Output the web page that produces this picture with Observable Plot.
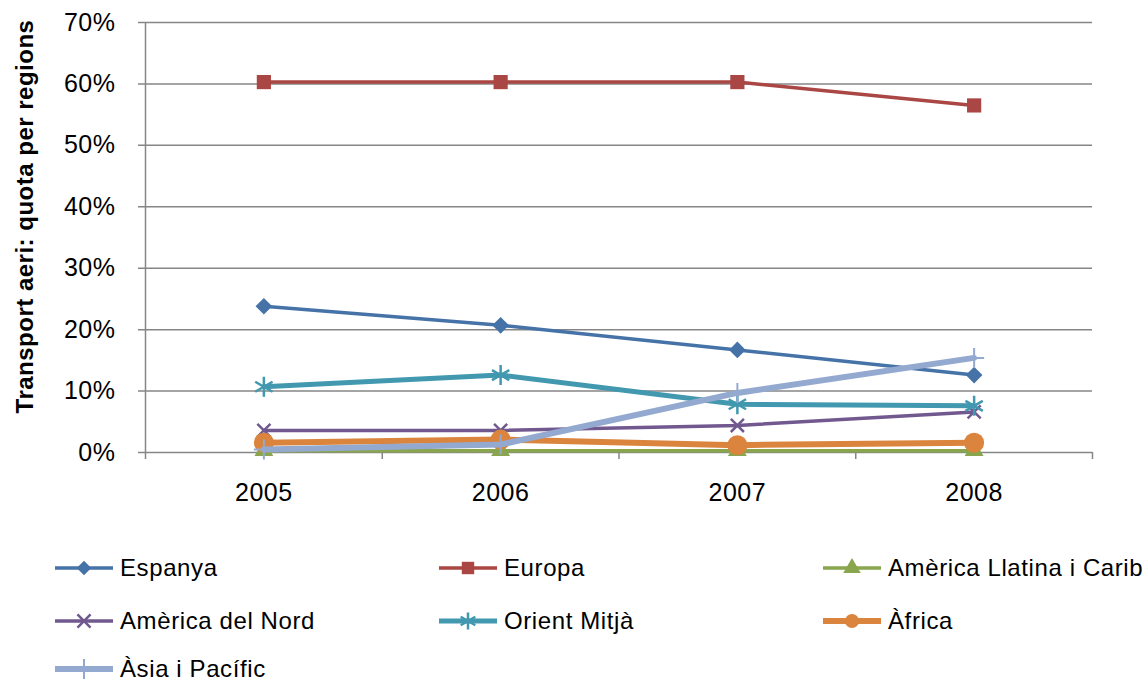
<!DOCTYPE html>
<html>
<head>
<meta charset="utf-8">
<script src="https://cdn.jsdelivr.net/npm/d3@7"></script>
<script src="https://cdn.jsdelivr.net/npm/@observablehq/plot@0.6"></script>
<style>
  html, body { margin: 0; padding: 0; background: #fff; }
  #wrap { position: relative; width: 1148px; height: 682px; overflow: hidden; font-family: "Liberation Sans", Arial, sans-serif; }
  .leg { position: absolute; display: flex; align-items: center; font-size: 24px; line-height: 24px; letter-spacing: 0.6px; color: #000; white-space: nowrap; }
  .leg svg { margin-right: 7px; overflow: visible; }
</style>
</head>
<body>
<div id="wrap"></div>
<script>
// ---- data ----
const years = [2005, 2006, 2007, 2008];
const yTicks = [0, 10, 20, 30, 40, 50, 60, 70];
const seriesNames = ["Espanya", "Europa", "Amèrica Llatina i Carib", "Amèrica del Nord", "Orient Mitjà", "Àfrica", "Àsia i Pacífic"];
const espanya = [23.8, 20.7, 16.7, 12.6];
const europa = [60.3, 60.3, 60.3, 56.5];
const llatina = [0.3, 0.3, 0.3, 0.3];
const nord = [3.6, 3.6, 4.4, 6.6];
const orient = [10.7, 12.6, 7.85, 7.6];
const africa = [1.6, 2.1, 1.2, 1.6];
const asia = [0.5, 1.3, 9.7, 15.4];
const yLabel = "Transport aeri: quota per regions";

// ---- styles ----
const seriesValues = [espanya, europa, llatina, nord, orient, africa, asia];
const colors = ["#4572A7", "#AA4643", "#89A54E", "#71588F", "#4198AF", "#DB843D", "#93A9CF"];
const symbols = ["diamond2", "square", "triangle", "times", "asterisk", "circle", "plus"];
const d3Symbols = [d3.symbolDiamond2, d3.symbolSquare, d3.symbolTriangle, d3.symbolTimes, d3.symbolAsterisk, d3.symbolCircle, d3.symbolPlus];
const filled = [true, true, true, false, false, true, false];
const lineWidths = [3.5, 3.5, 3.5, 3.5, 5, 6, 6];
const markerR = [7.5, 8, 7, 6, 9.5, 10, 6.5];
const legendR = [6.5, 7, 6.5, 6, 8, 7, 6.5];
const markerStroke = [0, 0, 0, 2.5, 2.5, 0, 2];

const grid = "#868686";
const seriesMarks = [];
seriesValues.forEach((vals, i) => {
  const data = years.map((yr, j) => ({year: yr, value: vals[j]}));
  seriesMarks.push(Plot.line(data, {x: "year", y: "value", stroke: colors[i], strokeWidth: lineWidths[i], strokeLinejoin: "round"}));
  seriesMarks.push(Plot.dot(data, filled[i]
    ? {x: "year", y: "value", symbol: symbols[i], r: markerR[i], fill: colors[i], stroke: "none"}
    : {x: "year", y: "value", symbol: symbols[i], r: markerR[i], fill: "none", stroke: colors[i], strokeWidth: markerStroke[i]}));
});

const bounds = [2004.5, 2005.5, 2006.5, 2007.5, 2008.5];

const chart = Plot.plot({
  width: 1148,
  height: 510,
  marginLeft: 145,
  marginRight: 56,
  marginTop: 22,
  marginBottom: 58,
  x: {domain: [2004.5, 2008.5], label: null},
  y: {domain: [0, 70], label: null},
  style: {fontFamily: "'Liberation Sans', Arial, sans-serif", fontSize: "25px", color: "#000", background: "#fff", letterSpacing: "0.5px"},
  marks: [
    Plot.ruleY(yTicks, {x1: 2004.5 - 7 / 237, x2: 2008.5, stroke: grid, strokeWidth: 1.5}),
    Plot.ruleX([2004.5], {y1: 0, y2: 70, stroke: grid, strokeWidth: 1.5}),
    Plot.ruleX(bounds, {y1: 0, y2: -7 * 70 / 430, stroke: grid, strokeWidth: 1.5, clip: false}),
    Plot.axisY({ticks: yTicks, tickSize: 0, tickPadding: 30, tickFormat: d => d + "%", label: null, fontSize: 25}),
    Plot.axisX({ticks: years, tickSize: 0, tickPadding: 31, tickFormat: d => String(d), label: null, fontSize: 25}),
    Plot.text([yLabel], {frameAnchor: "left", textAnchor: "middle", lineAnchor: "middle", dx: -120, dy: -21, rotate: -90, text: d => d, fontWeight: "bold", fontSize: 24, fill: "#000"}),
    ...seriesMarks
  ]
});

const wrap = document.getElementById("wrap");
chart.style.position = "absolute";
chart.style.left = "0px";
chart.style.top = "0px";
wrap.appendChild(chart);

// ---- legend ----
const colX = [55, 439, 823];
const rowY = [568, 621, 669];
seriesNames.forEach((name, i) => {
  const div = document.createElement("div");
  div.className = "leg";
  const cx = colX[i % 3], cy = rowY[Math.floor(i / 3)];
  div.style.left = cx + "px";
  div.style.top = (cy - 12) + "px";
  div.style.height = "24px";
  const sw = 58;
  const lr = legendR[i];
  const path = d3.symbol().type(d3Symbols[i]).size(Math.PI * lr * lr)();
  const mark = filled[i]
    ? `<path d="${path}" transform="translate(${sw / 2},12)" fill="${colors[i]}"/>`
    : `<path d="${path}" transform="translate(${sw / 2},12)" fill="none" stroke="${colors[i]}" stroke-width="${markerStroke[i]}"/>`;
  div.innerHTML = `<svg width="${sw}" height="24"><line x1="0" x2="${sw}" y1="12" y2="12" stroke="${colors[i]}" stroke-width="${lineWidths[i]}"/>${mark}</svg><span>${name}</span>`;
  wrap.appendChild(div);
});
</script>
</body>
</html>
